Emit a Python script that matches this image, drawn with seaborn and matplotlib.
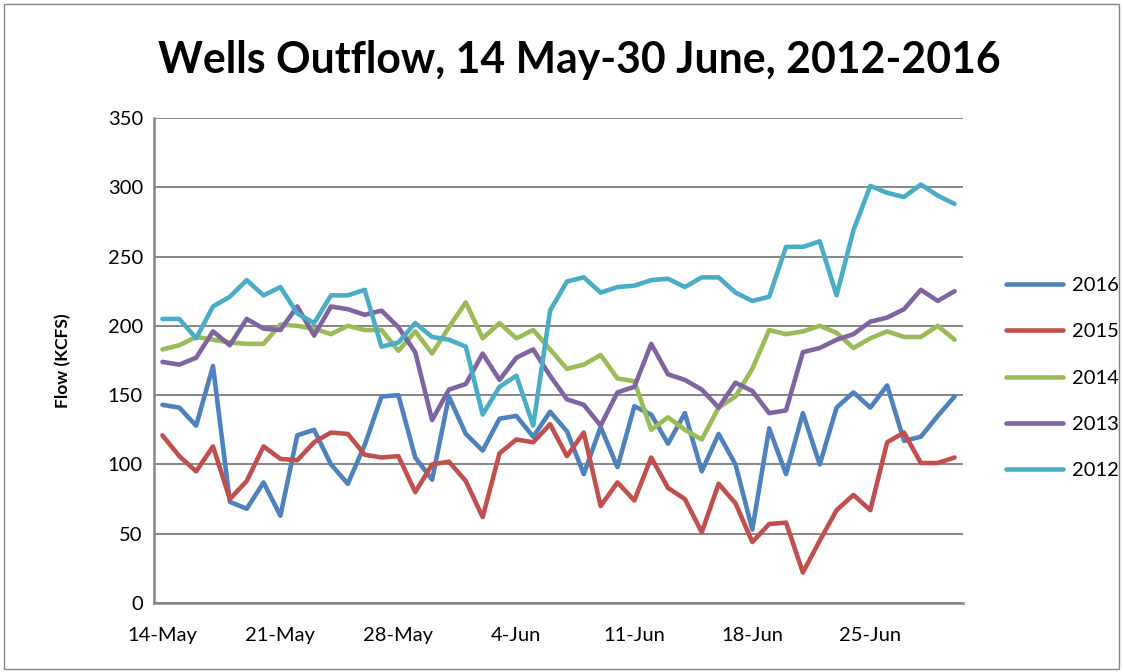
import pandas as pd
import matplotlib
matplotlib.use("Agg")
import matplotlib.pyplot as plt
import seaborn as sns
from matplotlib.patches import Rectangle

# daily flows, 14 May - 30 June (KCFS)
y2016 = [143, 141, 128, 171, 73, 68, 87, 63, 121, 125, 100, 86,
         114, 149, 150, 105, 89, 149, 122, 110, 133, 135, 120, 138,
         124, 93, 127, 98, 142, 136, 115, 137, 95, 122, 100, 53,
         126, 93, 137, 100, 141, 152, 141, 157, 117, 120, 135, 149]
y2015 = [121, 106, 95, 113, 75, 88, 113, 104, 103, 116, 123, 122,
         107, 105, 106, 80, 100, 102, 88, 62, 108, 118, 116, 129,
         106, 123, 70, 87, 74, 105, 83, 75, 51, 86, 72, 44,
         57, 58, 22, 45, 67, 78, 67, 116, 123, 101, 101, 105]
y2014 = [183, 186, 192, 190, 188, 187, 187, 201, 200, 198, 194, 200,
         197, 197, 182, 196, 180, 199, 217, 191, 202, 191, 197, 183,
         169, 172, 179, 162, 160, 125, 134, 125, 118, 141, 149, 169,
         197, 194, 196, 200, 195, 184, 191, 196, 192, 192, 200, 190]
y2013 = [174, 172, 177, 196, 186, 205, 198, 197, 214, 193, 214, 212,
         208, 211, 199, 181, 132, 154, 158, 180, 161, 177, 183, 164,
         147, 143, 128, 152, 156, 187, 165, 161, 154, 141, 159, 153,
         137, 139, 181, 184, 190, 194, 203, 206, 212, 226, 218, 225]
y2012 = [205, 205, 191, 214, 221, 233, 222, 228, 209, 202, 222, 222,
         226, 185, 188, 202, 192, 190, 185, 136, 156, 164, 128, 211,
         232, 235, 224, 228, 229, 233, 234, 228, 235, 235, 224, 218,
         221, 257, 257, 261, 222, 269, 301, 296, 293, 302, 294, 288]

years = ["2016", "2015", "2014", "2013", "2012"]
colors = ["#4F81BD", "#C0504D", "#9BBB59", "#8064A2", "#4BACC6"]
dates = pd.date_range("2016-05-14", "2016-06-30", freq="D")

df = pd.DataFrame({"2016": y2016, "2015": y2015, "2014": y2014,
                   "2013": y2013, "2012": y2012})
df["day"] = range(len(dates))
long = df.melt(id_vars="day", var_name="year", value_name="flow")

sns.set_style("white")
plt.rcParams["font.family"] = ["Lato", "DejaVu Sans"]
plt.rcParams.update({"text.color": "black", "axes.labelcolor": "black",
                     "xtick.color": "black", "ytick.color": "black"})

fig = plt.figure(figsize=(11.23, 6.72), dpi=100)
ax = fig.add_axes([154 / 1123, 1 - 603 / 672, (963 - 154) / 1123, (603 - 118) / 672])

sns.lineplot(data=long, x="day", y="flow", hue="year", hue_order=years,
             palette=colors, linewidth=3.3, ax=ax, legend=True)

ax.set_xlim(-0.5, len(dates) - 0.5)
ax.set_ylim(0, 350)
ax.set_yticks(range(0, 351, 50))
ticks = list(range(0, len(dates), 7))
ax.set_xticks(ticks)
ax.set_xticklabels([f"{dates[i].day}-{dates[i].strftime('%b')}" for i in ticks])
ax.tick_params(axis="x", length=0, pad=17, labelsize=14.5)
ax.tick_params(axis="y", length=0, pad=8, labelsize=14.5)
ax.grid(axis="y", color="#868686", linewidth=1.4)
for s in ["top", "right"]:
    ax.spines[s].set_visible(False)
for s in ["left", "bottom"]:
    ax.spines[s].set_color("#868686")
    ax.spines[s].set_linewidth(1.8)
ax.set_xlabel("")
ax.set_ylabel("Flow (KCFS)", fontsize=12.5, fontweight="bold", labelpad=26)

leg = ax.legend(loc="center left", bbox_to_anchor=(988 / 1123, 1 - 378 / 672),
                bbox_transform=fig.transFigure, frameon=False, fontsize=14.5,
                handlelength=2.8, handletextpad=0.45, labelspacing=1.45)
for line in leg.get_lines():
    line.set_linewidth(3.3)

fig.text(0.5156, 1 - 60 / 672, "Wells Outflow, 14 May-30 June, 2012-2016",
         ha="center", va="center", fontsize=30.8, fontweight="bold")

fig.patches.append(Rectangle((4 / 1123, 3 / 672), 1115 / 1123, 665 / 672,
                             transform=fig.transFigure, fill=False,
                             edgecolor="#868686", linewidth=1))

fig.savefig("out.png", dpi=100)
